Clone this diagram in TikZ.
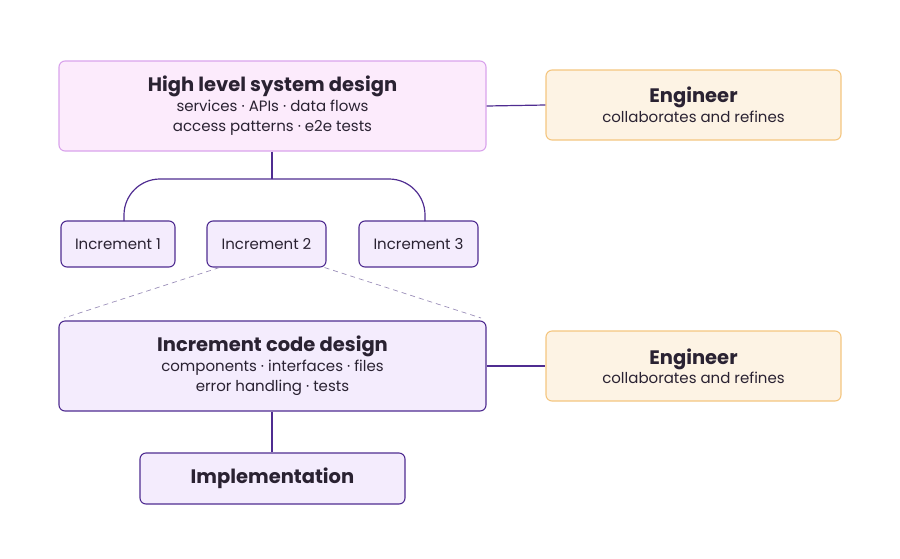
\documentclass[tikz,border=0pt]{standalone}
\usepackage{fontspec}
\setmainfont{Poppins}
\usetikzlibrary{calc}
\definecolor{ink}{HTML}{2A2232}
\definecolor{lineP}{HTML}{4F2C91}
\definecolor{hlFill}{HTML}{FCEBFC}
\definecolor{hlDraw}{HTML}{D9A3EC}
\definecolor{engFill}{HTML}{FDF3E4}
\definecolor{engDraw}{HTML}{F4C680}
\definecolor{incFill}{HTML}{F4ECFD}
\definecolor{dashC}{HTML}{9A8EB8}
\newcommand{\ttlfont}{\fontsize{19.5}{22}\selectfont\bfseries}
\newcommand{\subfont}{\fontsize{15}{20.5}\selectfont}
\tikzset{
  box/.style={rounded corners=6pt, line width=1.1pt, align=center, text=ink, inner sep=0pt, font=\subfont},
  hlbox/.style={box, fill=hlFill, draw=hlDraw},
  engbox/.style={box, fill=engFill, draw=engDraw},
  incbox/.style={box, fill=incFill, draw=lineP},
  conn/.style={draw=lineP, line width=1.2pt},
  dashconn/.style={draw=dashC, line width=0.7pt, dash pattern=on 5pt off 4pt},
}
\begin{document}
\begin{tikzpicture}[x=1pt,y=-1pt]
\useasboundingbox (0,0) rectangle (900,558);
% nodes
\node[hlbox, minimum width=427pt, minimum height=90pt] (hl) at (272.5,106)
  {{\ttlfont High level system design}\\[-1pt]
   services · APIs · data flows\\
   access patterns · e2e tests};
\node[engbox, minimum width=295pt, minimum height=70pt] (eng1) at (693.5,105)
  {{\ttlfont Engineer}\\[-1pt]
   collaborates and refines};
\node[incbox, minimum width=114pt, minimum height=46pt] (inc1) at (118,244) {Increment 1};
\node[incbox, minimum width=119pt, minimum height=46pt] (inc2) at (266.5,244) {Increment 2};
\node[incbox, minimum width=119pt, minimum height=46pt] (inc3) at (418.5,244) {Increment 3};
\node[incbox, minimum width=427pt, minimum height=90pt] (icd) at (272.5,366)
  {{\ttlfont Increment code design}\\[-1pt]
   components · interfaces · files\\
   error handling · tests};
\node[engbox, minimum width=295pt, minimum height=70pt] (eng2) at (693.5,366)
  {{\ttlfont Engineer}\\[-1pt]
   collaborates and refines};
\node[incbox, minimum width=265pt, minimum height=51pt, font=\ttlfont] (impl) at (272.5,478.5) {Implementation};
% coordinates
\coordinate (fork) at (272,179);
\coordinate (in1) at (124,221);
\coordinate (in3) at (425,221);
\coordinate (dl) at (64,318);
\coordinate (dr) at (481,318);
% connectors
\draw[conn] (hl.east) -- (eng1.west);
\draw[conn] (icd.east) -- (eng2.west);
\draw[conn] (hl.south -| fork) -- (fork);
\draw[conn, rounded corners=36pt] (fork) -- (fork -| in1) -- (in1);
\draw[conn, rounded corners=36pt] (fork) -- (fork -| in3) -- (in3);
\draw[dashconn] ($(inc2.south west)+(13,0)$) -- (dl);
\draw[dashconn] ($(inc2.south east)+(-2,0)$) -- (dr);
\draw[conn] (icd.south -| fork) -- (impl.north -| fork);
\end{tikzpicture}
\end{document}
